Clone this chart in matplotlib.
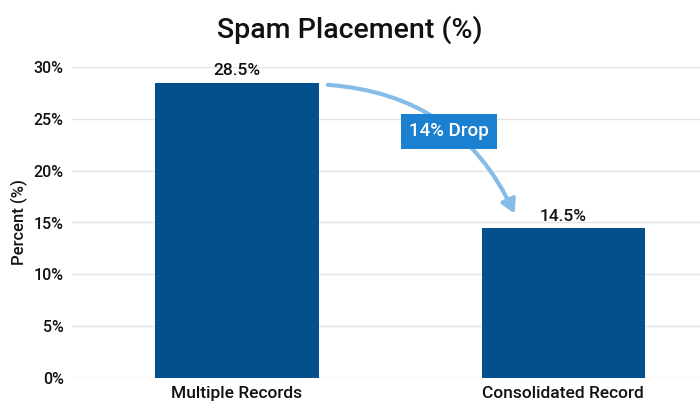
import matplotlib
matplotlib.use("Agg")
import matplotlib.pyplot as plt

categories = ["Multiple Records", "Consolidated Record"]
values = [28.5, 14.5]
labels = ["28.5%", "14.5%"]
yticks = [0, 5, 10, 15, 20, 25, 30]

plt.rcParams['font.family'] = ['Roboto', 'DejaVu Sans']
fig = plt.figure(figsize=(7, 4.15), dpi=100)
ax = fig.add_axes([72/700, 1-378/415, 628/700, (378-67)/415])
x = list(range(len(categories)))
ax.bar(x, values, width=0.5, color="#03508C", zorder=3)
for xi, v, l in zip(x, values, labels):
    ax.text(xi, v + 0.4, l, ha="center", va="bottom", fontsize=12.5, color="#111111", fontweight="medium")
ax.set_xlim(-0.506, 1.42)
ax.set_ylim(0, 30)
ax.set_yticks(yticks)
ax.set_yticklabels([f"{t}%" for t in yticks], fontsize=11.5, color="#111111", fontweight="medium")
ax.set_xticks(x)
ax.set_xticklabels(categories, fontsize=12.5, color="#111111", fontweight="medium")
ax.tick_params(length=0, pad=6)
ax.grid(axis="y", color="#e3e3e3", linewidth=1, zorder=0)
for s in ax.spines.values():
    s.set_visible(False)
ax.set_ylabel("Percent (%)", fontsize=12, color="#111111", fontweight="medium")
fig.text(0.5, 1-30/415, "Spam Placement (%)", ha="center", va="center", fontsize=20.5, color="#111111", fontweight="medium")

ax.annotate("", xy=(0.855, 15.6), xytext=(0.27, 28.3),
            arrowprops=dict(arrowstyle="-|>,head_length=0.8,head_width=0.45", color="#86BCE8",
                            lw=3, connectionstyle="arc3,rad=-0.3"), zorder=4)
ax.text(0.65, 23.8, "14% Drop", ha="center", va="center", fontsize=13.5, color="white", zorder=5,
        fontweight="medium", bbox=dict(boxstyle="square,pad=0.45", fc="#1B80CF", ec="none"))
fig.savefig("out.png", dpi=100)
